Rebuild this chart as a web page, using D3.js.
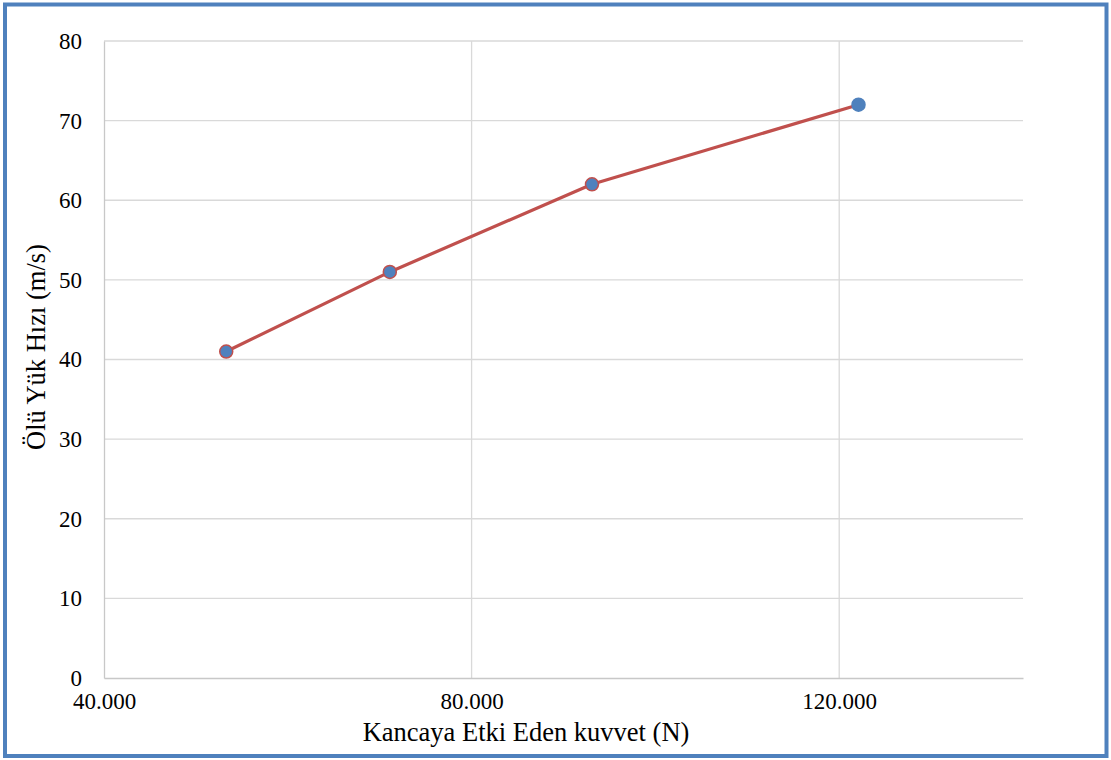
<!DOCTYPE html>
<html>
<head>
<meta charset="utf-8">
<script src="https://cdn.jsdelivr.net/npm/d3@7"></script>
<style>
  html, body { margin: 0; padding: 0; background: #fff; }
  svg { display: block; }
</style>
</head>
<body>
<svg id="chart" width="1111" height="760"></svg>
<script>
// Hook force (N) vs. dead-load speed (m/s)
const forceValues = [53300, 71100, 93100, 122100];
const speedValues = [41, 51, 62, 72];
const xTicks = [40000, 80000, 120000];
const yTicks = [0, 10, 20, 30, 40, 50, 60, 70, 80];
const xTitle = "Kancaya Etki Eden kuvvet (N)";
const yTitle = "Ölü Yük Hızı (m/s)";

const svg = d3.select("#chart");
const W = 1111, H = 760;
const plot = { left: 104, right: 1023, top: 41, bottom: 678 };
const font = "'Liberation Serif', 'Times New Roman', serif";

// outer frame
svg.append("rect")
  .attr("x", 5).attr("y", 4.5)
  .attr("width", W - 9.5).attr("height", H - 8.5)
  .attr("fill", "#fff")
  .attr("stroke", "#4f81bd")
  .attr("stroke-width", 4);

const x = d3.scaleLinear().domain([40000, 140000]).range([plot.left, plot.right]);
const y = d3.scaleLinear().domain([0, 80]).range([plot.bottom, plot.top]);

const gridColor = "#d9d9d9";
const axisColor = "#c8c8c8";

// horizontal gridlines
svg.append("g").selectAll("line").data(yTicks.filter(d => d > 0)).join("line")
  .attr("x1", plot.left).attr("x2", plot.right)
  .attr("y1", d => y(d)).attr("y2", d => y(d))
  .attr("stroke", gridColor).attr("stroke-width", 1.3);

// vertical gridlines
svg.append("g").selectAll("line").data(xTicks.filter(d => d > 40000)).join("line")
  .attr("x1", d => x(d)).attr("x2", d => x(d))
  .attr("y1", plot.top).attr("y2", plot.bottom)
  .attr("stroke", gridColor).attr("stroke-width", 1.3);

// axis lines and tick labels
const yAxis = d3.axisLeft(y).tickValues(yTicks).tickSize(0).tickPadding(22)
  .tickFormat(d3.format("d"));
const gy = svg.append("g").attr("transform", `translate(${plot.left},0)`).call(yAxis);
gy.select(".domain").attr("stroke", axisColor).attr("stroke-width", 1.3);
gy.selectAll("text").attr("font-family", font).attr("font-size", 23).attr("fill", "#000")
  .attr("dy", "0.32em");

const fmtX = d => d3.format(",")(d).replace(/,/g, ".");
const xAxis = d3.axisBottom(x).tickValues(xTicks).tickSize(0).tickPadding(15)
  .tickFormat(fmtX);
const gx = svg.append("g").attr("transform", `translate(0,${plot.bottom})`).call(xAxis);
gx.select(".domain").attr("stroke", axisColor).attr("stroke-width", 1.3);
gx.selectAll("text").attr("font-family", font).attr("font-size", 23).attr("fill", "#000");

// axis titles
svg.append("text")
  .attr("x", 526).attr("y", 741)
  .attr("text-anchor", "middle")
  .attr("font-family", font).attr("font-size", 26.5).attr("fill", "#000")
  .text(xTitle);

svg.append("text")
  .attr("transform", `translate(45,347) rotate(-90)`)
  .attr("text-anchor", "middle")
  .attr("font-family", font).attr("font-size", 26.5).attr("fill", "#000")
  .text(yTitle);

// series
const pts = forceValues.map((f, i) => ({ f, s: speedValues[i] }));
const line = d3.line().x(d => x(d.f)).y(d => y(d.s));

svg.append("path").datum(pts)
  .attr("d", line)
  .attr("fill", "none")
  .attr("stroke", "#c0504d")
  .attr("stroke-width", 3.2)
  .attr("stroke-linejoin", "round");

svg.append("g").selectAll("circle").data(pts).join("circle")
  .attr("cx", d => x(d.f)).attr("cy", d => y(d.s))
  .attr("r", 6.5)
  .attr("fill", "#4f81bd")
  .attr("stroke", (d, i) => i === pts.length - 1 ? "#4f81bd" : "#c0504d")
  .attr("stroke-width", 1.5);
</script>
</body>
</html>
